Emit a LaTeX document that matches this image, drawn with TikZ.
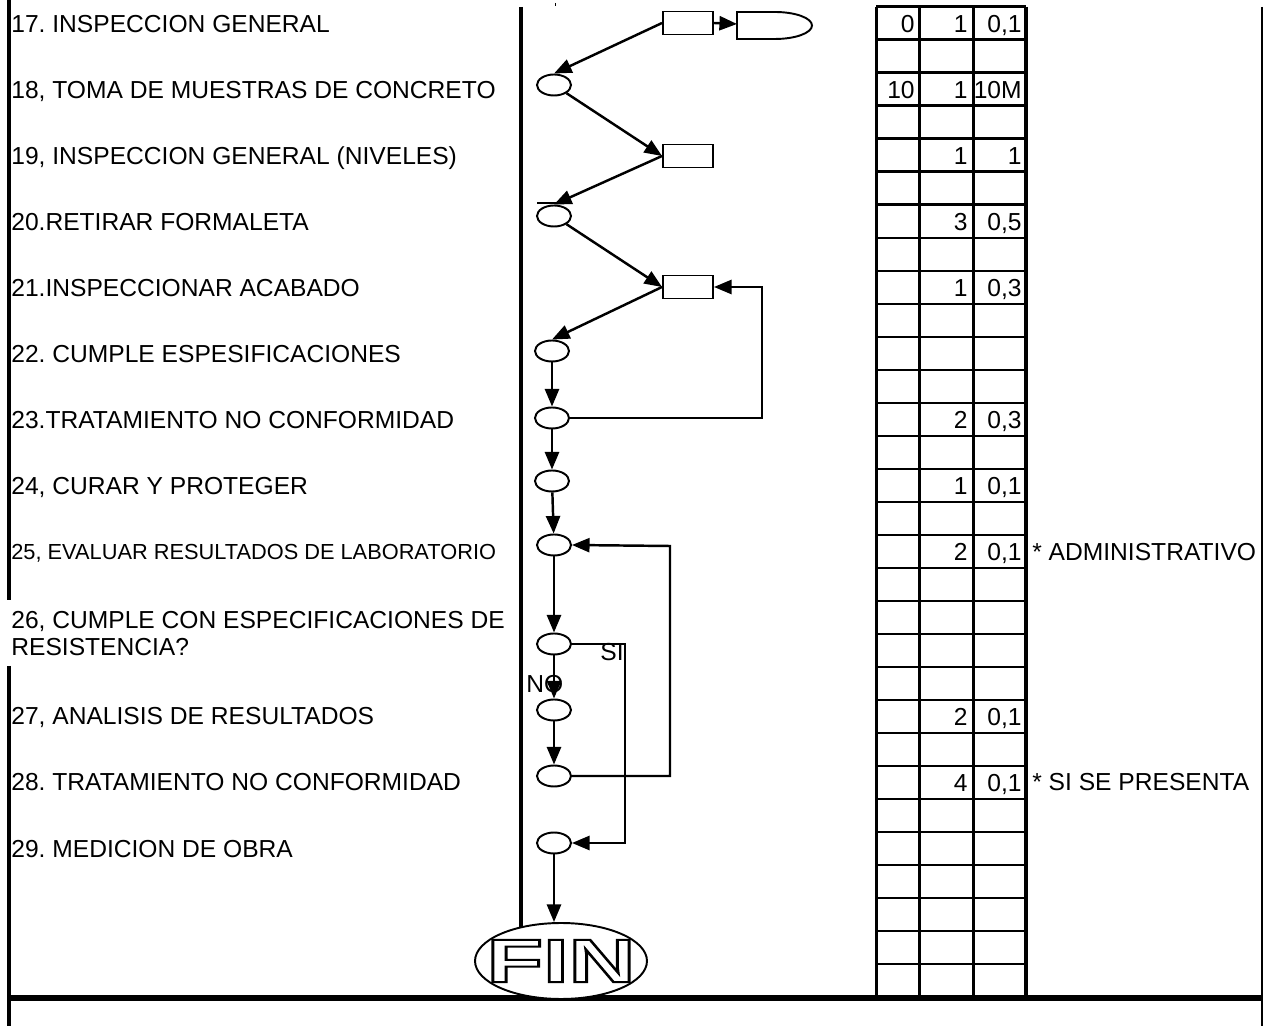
\documentclass[tikz,border=0pt]{standalone}
\usepackage{fontspec}
\setmainfont{Liberation Sans}
\usepackage{graphicx}
\usetikzlibrary{arrows.meta,shapes.geometric}
\frenchspacing
\newcommand\outlinetxt[1]{\special{pdf:literal direct 1 Tr 1.1 w}#1\special{pdf:literal direct 0 Tr}}

\tikzset{
  lbl/.style={anchor=west,inner sep=0pt,text height=10pt,text depth=0pt,font=\fontsize{14}{17}\selectfont},
  num/.style={anchor=east,inner sep=0pt,text height=10pt,text depth=0pt,font=\fontsize{14}{17}\selectfont},
  oper/.style={draw,ellipse,line width=1.1pt,minimum width=0.68cm,minimum height=0.42cm,inner sep=0pt},
  insp/.style={draw,rectangle,line width=1.1pt,minimum width=1cm,minimum height=0.46cm,inner sep=0pt},
  arr/.style={line width=1.4pt,-{Triangle[length=10pt,width=8pt]}},
  grid/.style={line width=1.7pt},
  fintxt/.style={inner sep=0pt,font=\fontsize{35}{40}\selectfont\bfseries},
}

\begin{document}
\begin{tikzpicture}[x=0.02cm,y=-0.02cm]
  \useasboundingbox (0,0) rectangle (1265,1026);

  % frame
  \draw[line width=2pt] (9,0) -- (9,600);
  \draw[line width=2pt] (9,666) -- (9,1026);
  \draw[line width=2.8pt] (521,7) -- (521,998);
  \draw[line width=1.6pt] (1262,7) -- (1262,1026);
  \draw[line width=3.4pt] (9,998) -- (1262,998);

  % table
  \foreach \k in {0,...,30}
    \draw[grid] (876,{7+33*\k}) -- (1026,{7+33*\k});
  \draw[grid] (876,7) -- (876,997);
  \draw[grid] (919,7) -- (919,997);
  \draw[grid] (973,7) -- (973,997);
  \draw[line width=2.8pt] (1026,7) -- (1026,997);
  \foreach \r/\a/\b/\c in {0/{0}/{1}/{0,1}, 2/{10}/{1}/{10M}, 4/{}/{1}/{1},
      6/{}/{3}/{0,5}, 8/{}/{1}/{0,3}, 12/{}/{2}/{0,3}, 14/{}/{1}/{0,1},
      16/{}/{2}/{0,1}, 21/{}/{2}/{0,1}, 23/{}/{4}/{0,1}} {
    \node[num] at (915,{23.5+33*\r}) {\a};
    \node[num] at (968,{23.5+33*\r}) {\b};
    \node[num] at (1022,{23.5+33*\r}) {\c};
  }
  \node[lbl] (n25) at (1032,552) {* ADMINISTRATIVO};
  \node[lbl] (n28) at (1032,782) {* SI SE PRESENTA};

  % activities
  \node[lbl] (t17) at (11,24) {17. INSPECCION GENERAL};
  \node[lbl] (t18) at (11,90) {18, TOMA DE MUESTRAS DE CONCRETO};
  \node[lbl] (t19) at (11,156) {19, INSPECCION GENERAL (NIVELES)};
  \node[lbl] (t20) at (11,222) {20.RETIRAR FORMALETA};
  \node[lbl] (t21) at (11,288) {21.INSPECCIONAR ACABADO};
  \node[lbl] (t22) at (11,354) {22. CUMPLE ESPESIFICACIONES};
  \node[lbl] (t23) at (11,420) {23.TRATAMIENTO NO CONFORMIDAD};
  \node[lbl] (t24) at (11,486) {24, CURAR Y PROTEGER};
  \node[lbl,text height=9pt,font=\fontsize{12.4}{15}\selectfont] (t25) at (11,552) {25, EVALUAR RESULTADOS DE LABORATORIO};
  \node[lbl,align=left,text height=,text depth=,font=\fontsize{14}{15.4}\selectfont] (t26) at (11,634)
    {26, CUMPLE CON ESPECIFICACIONES DE\\RESISTENCIA?};
  \node[lbl] (t27) at (11,716) {27, ANALISIS DE RESULTADOS};
  \node[lbl] (t28) at (11,782) {28. TRATAMIENTO NO CONFORMIDAD};
  \node[lbl] (t29) at (11,849) {29. MEDICION DE OBRA};

  % symbols
  \node[insp] (r17) at (688,23) {};
  \node[oper] (e18) at (554,85) {};
  \node[insp] (r19) at (688,156) {};
  \node[oper] (e20) at (554,216) {};
  \node[insp] (r21) at (688,287) {};
  \node[oper] (e22) at (552,351) {};
  \node[oper] (e23) at (552,418) {};
  \node[oper] (e24) at (552,481) {};
  \node[oper] (e25) at (554,545) {};
  \node[oper] (e26) at (554,644) {};
  \node[oper] (e27) at (554,710) {};
  \node[oper] (e28) at (554,776) {};
  \node[oper] (e29) at (554,843) {};
  \node[draw,ellipse,fill=white,line width=1.1pt,minimum width=3.44cm,minimum height=1.52cm,inner sep=0pt] (fin) at (561,961) {};
  \node[fintxt,xscale=1.5,transform shape] (fintext) at (fin.center) {\outlinetxt{FIN}};

  % delay
  \coordinate (d17) at (737,24);
  \draw[line width=1.1pt] (737,12) -- (775,12) arc[start angle=90,end angle=-90,x radius=0.74cm,y radius=0.27cm] -- (737,39) -- cycle;

  % stray marks
  \draw[line width=0.5pt] (555,3) -- (555,6);
  \draw[line width=1.4pt] (537,203) -- (562,203);

  % flow
  \coordinate (c23) at (762,287);
  \coordinate (c26) at (625,843);
  \coordinate (c28) at (670,546);
  \draw[arr] (r17.east) -- (d17);
  \draw[arr] (r17.west) -- (e18.north);
  \draw[arr] (e18) -- (r19.west);
  \draw[arr] (r19.west) -- (e20.north);
  \draw[arr] (e20) -- (r21.west);
  \draw[arr] (r21.west) -- (e22.north);
  \draw[arr] (e22) -- (e23);
  \draw[arr] (e23.east) -| (c23) -- (r21.east);
  \draw[arr] (e23) -- (e24);
  \draw[arr] (e24) -- (e25);
  \draw[arr] (e25) -- (e26);
  \draw[arr] (e26) -- (e27);
  \draw[arr] (e26.east) -| (c26) -- (e29.east);
  \draw[arr] (e27) -- (e28);
  \draw[arr] (e28.east) -| (c28) -- (e25.east);
  \draw[arr] (e29) -- (e29 |- fin.north);
  \node[lbl] (si) at (600,652) {SI};
  \node[lbl] (no) at (526,684) {NO};
\end{tikzpicture}
\end{document}
